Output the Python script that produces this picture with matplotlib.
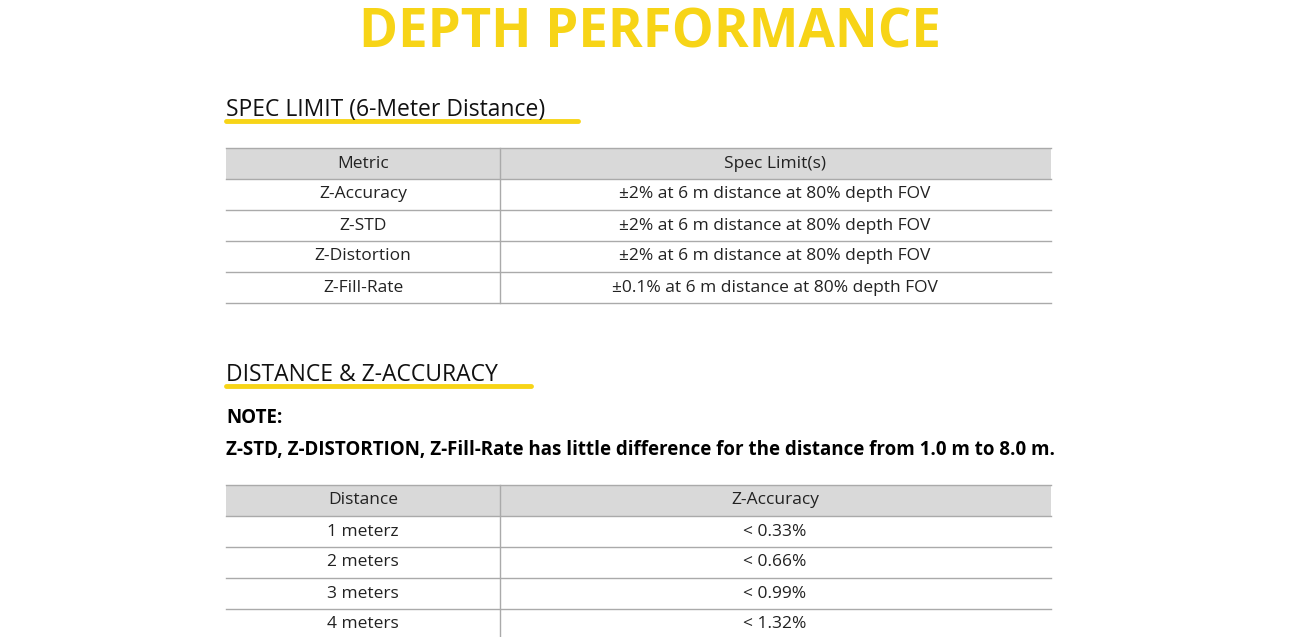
import matplotlib
matplotlib.use("Agg")
import matplotlib.pyplot as plt

title = "DEPTH PERFORMANCE"
section1 = "SPEC LIMIT (6-Meter Distance)"
section2 = "DISTANCE & Z-ACCURACY"
note_head = "NOTE:"
note_text = "Z-STD, Z-DISTORTION, Z-Fill-Rate has little difference for the distance from 1.0 m to 8.0 m."
t1_header = ["Metric", "Spec Limit(s)"]
metrics = ["Z-Accuracy", "Z-STD", "Z-Distortion", "Z-Fill-Rate"]
spec_limits = ["±2% at 6 m distance at 80% depth FOV",
               "±2% at 6 m distance at 80% depth FOV",
               "±2% at 6 m distance at 80% depth FOV",
               "±0.1% at 6 m distance at 80% depth FOV"]
t2_header = ["Distance", "Z-Accuracy"]
distances = ["1 meterz", "2 meters", "3 meters", "4 meters"]
accuracies = ["< 0.33%", "< 0.66%", "< 0.99%", "< 1.32%"]

YEL = "#F7D417"
plt.rcParams['font.family'] = ['Open Sans', 'DejaVu Sans']
fig = plt.figure(figsize=(13, 6.37), dpi=100)
ax = fig.add_axes([0, 0, 1, 1])
ax.set_xlim(0, 1300); ax.set_ylim(637, 0); ax.axis('off')

ax.text(650, 33, title, color=YEL, fontsize=38, fontweight='bold', ha='center', va='center')

def section(y, text, x1):
    ax.plot([226, x1], [y + 11, y + 11], color=YEL, lw=3.5, solid_capstyle='round', zorder=1)
    ax.text(226, y, text, fontsize=16.5, color='#111111', ha='left', va='center', zorder=2)

def table(top, header, c1, c2, rowh=31):
    ax.add_patch(plt.Rectangle((226, top), 825, rowh, color='#d9d9d9', lw=0))
    rows = [header] + list(zip(c1, c2))
    for i, (a, b) in enumerate(rows):
        yc = top + rowh * (i + 0.5)
        ax.text(363, yc, a, fontsize=12.5, ha='center', va='center', color='#222222')
        ax.text(775, yc, b, fontsize=12.5, ha='center', va='center', color='#222222')
        ax.plot([226, 1051], [top + rowh * (i + 1)] * 2, color='#aaaaaa', lw=1)
    ax.plot([226, 1051], [top, top], color='#aaaaaa', lw=1)
    ax.plot([500, 500], [top, top + rowh * len(rows)], color='#aaaaaa', lw=1)

section(110, section1, 578)
table(148, t1_header, metrics, spec_limits)
section(375, section2, 531)
ax.text(226, 418, note_head, fontsize=13.5, fontweight='bold', ha='left', va='center')
ax.text(226, 450, note_text, fontsize=13.5, fontweight='bold', ha='left', va='center')
table(485, t2_header, distances, accuracies)

fig.savefig("out.png", dpi=100, facecolor='white')
